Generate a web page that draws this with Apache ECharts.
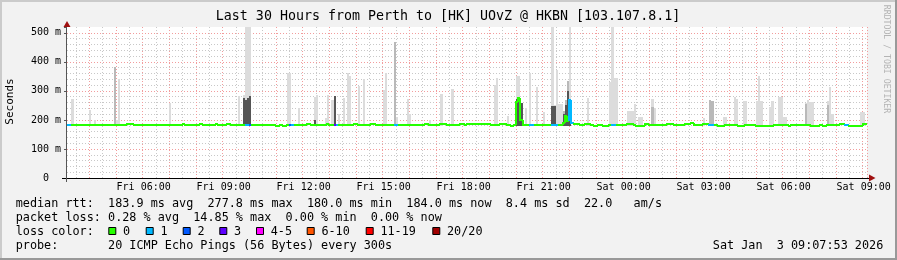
<!DOCTYPE html>
<html><head><meta charset="utf-8">
<script src="https://cdn.jsdelivr.net/npm/echarts@6/dist/echarts.min.js"></script>
<style>html,body{margin:0;padding:0;background:#f2f2f2}#c{width:897px;height:260px}</style>
</head><body><div id="c"></div><script>
// ---------- data ----------
const dayNames = ['Fri', 'Sat'];
const startMinute = 3 * 60 + 10;   // first 5-minute bucket: Fri 03:10
const stepMinutes = 5;
const bucketCount = 360;
const tickLabels = ['Fri 06:00','Fri 09:00','Fri 12:00','Fri 15:00','Fri 18:00','Fri 21:00','Sat 00:00','Sat 03:00','Sat 06:00','Sat 09:00'];
const yMax = 520;
const minRtt = 180.0;

const median = [
183,184,183,183,184,183,183,184,183,184,184,183,183,184,184,184,183,183,184,183,
184,184,183,183,184,183,184,187,187,187,184,183,183,184,184,183,183,184,184,183,
183,184,184,183,183,184,184,183,183,184,183,184,187,184,183,183,184,183,184,183,
187,184,183,183,184,184,183,187,184,183,184,183,187,187,184,183,183,184,184,183,
183,183,183,184,184,183,183,184,184,183,184,184,183,183,180,180,181,180,180,181,
183,184,183,184,184,183,184,183,187,187,184,183,183,184,183,184,184,187,184,183,
182,182,183,184,184,183,183,184,183,187,187,184,183,183,184,183,183,187,187,184,
183,184,183,184,183,184,183,183,183,184,184,183,183,184,184,183,184,183,184,183,
184,187,187,184,183,184,184,183,187,187,187,184,183,184,183,184,183,187,187,184,
186,186,186,186,186,186,186,186,186,186,186,184,184,184,184,187,187,187,184,184,
180,184,262,277,200,184,184,183,183,183,184,184,183,184,184,183,184,184,184,184,
183,184,184,188,212,195,268,190,187,187,187,184,184,187,187,187,184,180,180,184,
184,180,180,180,184,184,184,183,184,184,184,183,187,187,187,184,180,180,180,180,
187,187,184,184,184,183,184,184,184,183,187,187,187,184,184,183,184,184,187,187,
187,188,184,184,184,183,187,187,187,184,184,184,184,180,180,180,184,184,183,184,
184,184,180,180,180,184,184,184,184,184,180,180,180,180,180,180,180,180,184,184,
184,184,184,184,184,180,184,184,184,184,184,184,184,184,184,180,180,180,180,184,
180,180,184,184,184,184,184,184,187,187,184,184,180,180,180,180,180,180,187,187
];

const lossIndex = [0,1,80,81,82,100,101,120,121,147,148,208,209,218,219,220,226,227,245,246,289,290,350,351];
const lossCount = [1,1,1,1,2,2,1,3,1,1,1,1,1,1,1,1,1,1,1,1,1,1,1,1];

const smokeIndex = [2,10,12,21,22,23,46,77,79,80,81,82,99,100,104,111,112,116,117,119,120,122,124,126,127,131,133,142,143,147,148,153,154,163,168,173,192,193,198,202,203,204,206,208,211,214,218,219,220,221,222,223,224,225,226,234,244,245,246,247,252,253,254,255,257,258,263,264,286,289,290,295,296,300,301,304,305,310,311,312,316,317,320,321,322,323,332,333,334,335,342,343,344,357,358];
const smokeHigh  = [272,234,199,381,200,341,259,282,285,520,520,520,360,360,240,278,286,205,287,269,281,220,275,360,350,318,341,303,360,467,209,272,220,200,289,306,320,346,213,350,350,257,240,363,315,228,520,250,372,255,255,230,269,335,520,277,330,520,345,345,230,230,230,255,209,209,272,240,207,269,265,211,211,278,272,264,264,266,352,266,245,264,278,278,209,209,260,269,261,261,266,312,220,226,226];
const smokeMid   = [0,0,0,381,0,0,0,0,0,0,0,0,0,0,0,0,0,0,0,0,0,0,0,0,0,0,0,0,0,467,0,0,0,0,0,0,0,0,0,0,0,0,0,0,0,0,0,0,0,0,0,230,269,335,0,0,0,0,0,0,0,0,0,0,0,0,244,0,0,269,265,0,0,0,0,0,0,0,0,0,0,0,0,0,0,0,255,0,0,0,250,0,0,0,0];
const smokeDark  = [0,0,0,0,0,0,0,0,276,270,276,282,0,0,0,200,0,0,0,0,281,0,0,0,0,0,0,0,0,0,0,0,0,0,0,0,0,0,0,272,276,257,0,0,0,0,248,248,0,0,0,220,250,300,270,0,0,0,0,0,0,0,0,0,0,0,0,0,0,0,0,0,0,0,0,0,0,0,0,0,0,0,0,0,0,0,0,0,0,0,0,0,0,0,0];

const lossColors = {0:'#26ff00',1:'#00b8ff',2:'#0059ff',3:'#5e00ff',5:'#ff00ff',10:'#ff5500',19:'#ff0000',20:'#a10000'};
const lossLegend = [['0','#26ff00'],['1','#00b8ff'],['2','#0059ff'],['3','#5e00ff'],['4-5','#ff00ff'],['6-10','#ff5500'],['11-19','#ff0000'],['20/20','#a10000']];

// ---------- derived ----------
function pad(n){return (n<10?'0':'')+n;}
const categories = [];
for (let k = 0; k < bucketCount; k++) {
  const t = startMinute + k * stepMinutes;
  const d = Math.floor(t / 1440), mm = t % 1440;
  categories.push(dayNames[d] + ' ' + pad(Math.floor(mm / 60)) + ':' + pad(mm % 60));
}
const lossAt = new Array(bucketCount).fill(0);
lossIndex.forEach((ix, k) => { lossAt[ix] = lossCount[k]; });
function lossColor(c){
  if (c === 0) return lossColors[0];
  if (c <= 1) return lossColors[1];
  if (c <= 2) return lossColors[2];
  if (c <= 3) return lossColors[3];
  if (c <= 5) return lossColors[5];
  if (c <= 10) return lossColors[10];
  if (c <= 19) return lossColors[19];
  return lossColors[20];
}
const smokeData = [];
smokeIndex.forEach((ix, k) => {
  smokeData.push([ix, minRtt, smokeHigh[k], '#dcdcdc']);
  if (smokeMid[k]) smokeData.push([ix, minRtt, smokeMid[k], '#b9b9b9']);
  if (smokeDark[k]) smokeData.push([ix, minRtt, smokeDark[k], '#555555']);
});
const medianData = median.map((v, i) => [i, v, i > 0 ? median[i-1] : v, lossAt[i]]);

const FONT = '"DejaVu Sans Mono", monospace';
const gridL = 67, gridT = 27, gridW = 800, gridH = 151;

const chart = echarts.init(document.getElementById('c'), null, {renderer: 'canvas'});

const graphics = [];
graphics.push({type:'rect', shape:{x:0,y:0,width:897,height:2}, style:{fill:'#cbcbcb'}, silent:true});
graphics.push({type:'rect', shape:{x:0,y:0,width:2,height:260}, style:{fill:'#cbcbcb'}, silent:true});
graphics.push({type:'rect', shape:{x:0,y:258,width:897,height:2}, style:{fill:'#999999'}, silent:true});
graphics.push({type:'rect', shape:{x:895,y:0,width:2,height:260}, style:{fill:'#999999'}, silent:true});
function txt(text, x, y, size, opts){
  return Object.assign({type:'text', x:x, y:y, silent:true, z:10,
    style:{text:text, font: size + 'px ' + FONT, fill:'#000', textAlign:'left', textVerticalAlign:'middle', align:'left', verticalAlign:'middle'}}, opts||{});
}
graphics.push({type:'text', x:448, y:16.8, silent:true,
  style:{text:'Last 30 Hours from Perth to [HK] UOvZ @ HKBN [103.107.8.1]', font:'13.3px '+FONT, fill:'#000', textAlign:'center', align:'center', textVerticalAlign:'middle', verticalAlign:'middle'}});
graphics.push({type:'text', x:10.5, y:101.5, rotation:Math.PI/2, silent:true,
  style:{text:'Seconds', font:'11px '+FONT, fill:'#000', textAlign:'center', align:'center', textVerticalAlign:'middle', verticalAlign:'middle'}});
graphics.push({type:'text', x:886.5, y:59, rotation:-Math.PI/2, silent:true,
  style:{text:'RRDTOOL / TOBI OETIKER', font:'8.2px '+FONT, fill:'#b4b4b4', textAlign:'center', align:'center', textVerticalAlign:'middle', verticalAlign:'middle'}});
graphics.push(txt('median rtt:  183.9 ms avg  277.8 ms max  180.0 ms min  184.0 ms now  8.4 ms sd  22.0   am/s', 15.7, 203.5, 11.8));
graphics.push(txt('packet loss: 0.28 % avg  14.85 % max  0.00 % min  0.00 % now', 15.7, 217.7, 11.8));
graphics.push(txt('loss color:', 15.7, 231.8, 11.8));
const swatchX = [108.3, 145.7, 182.7, 219.3, 256, 306.7, 365.7, 432.3];
lossLegend.forEach((it, k) => {
  graphics.push({type:'rect', shape:{x:swatchX[k]+0.5, y:227.5, width:7, height:7}, style:{fill:it[1], stroke:'#000', lineWidth:1}, silent:true, z:10});
  graphics.push(txt(it[0], swatchX[k]+14.7, 231.8, 11.8));
});
graphics.push(txt('probe:       20 ICMP Echo Pings (56 Bytes) every 300s', 15.7, 246, 11.8));
graphics.push(txt('Sat Jan  3 09:07:53 2026', 712.8, 246, 11.8));
graphics.push({type:'polygon', shape:{points:[[63.5,27],[70.5,27],[67,21]]}, style:{fill:'#a01010'}, silent:true, z:10});
graphics.push({type:'polygon', shape:{points:[[869,174.5],[869,181.5],[875.5,178]]}, style:{fill:'#a01010'}, silent:true, z:10});
graphics.push({type:'line', shape:{x1:62,y1:178.5,x2:869,y2:178.5}, style:{stroke:'#000', lineWidth:1}, silent:true, z:9});
graphics.push({type:'line', shape:{x1:66.5,y1:27,x2:66.5,y2:182}, style:{stroke:'#555', lineWidth:1}, silent:true, z:9});

const isHalf = (idx, val) => /:30$/.test(val);
const isHour = (idx, val) => /:00$/.test(val);
const isLabel = (idx, val) => tickLabels.indexOf(val) >= 0;

const option = {
  backgroundColor: '#f2f2f2',
  animation: false,
  grid: {left:gridL, top:gridT, width:gridW, height:gridH, show:true, backgroundColor:'#ffffff', borderWidth:0},
  xAxis: [
    {type:'category', data:categories, boundaryGap:true, gridIndex:0, position:'bottom',
     axisLine:{show:false}, axisTick:{show:false},
     axisLabel:{show:true, interval:isLabel, formatter:v=>v, fontFamily:'DejaVu Sans Mono', fontSize:10, color:'#000', margin:4},
     splitLine:{show:true, interval:isHalf, lineStyle:{color:'#c8c8c8', width:1, type:[1,2]}}},
    {type:'category', data:categories, boundaryGap:true, gridIndex:0, position:'bottom',
     axisLine:{show:false}, axisTick:{show:false}, axisLabel:{show:false},
     splitLine:{show:true, interval:isHour, lineStyle:{color:'#f29c9c', width:1, type:[1,2]}}}
  ],
  yAxis: [
    {type:'value', min:0, max:yMax, interval:20, position:'left',
     axisLine:{show:false}, axisTick:{show:false},
     axisLabel:{show:true, margin:6, fontFamily:'DejaVu Sans Mono', fontSize:10, color:'#000',
       formatter:v => (v % 100 === 0 && v <= 500) ? (v === 0 ? '0  ' : v + ' m') : ''},
     splitLine:{show:true, showMaxLine:false, showMinLine:false, lineStyle:{color:'#c8c8c8', width:1, type:[1,2]}}},
    {type:'value', min:0, max:yMax, interval:100, position:'left',
     axisLine:{show:false}, axisTick:{show:true, length:3, lineStyle:{color:'#555'}}, axisLabel:{show:false},
     splitLine:{show:true, showMaxLine:false, showMinLine:false, lineStyle:{color:'#f29c9c', width:1, type:[1,2]}}}
  ],
  graphic: {elements: graphics},
  series: [
    {type:'custom', name:'smoke', xAxisIndex:0, yAxisIndex:0, clip:true, z:3,
     renderItem:(params, api) => {
       const i = api.value(0);
       const lo = api.coord([i, api.value(1)]);
       const hi = api.coord([i, api.value(2)]);
       const w = api.size([1, 0])[0];
       const x0 = Math.round(lo[0] - w/2), x1 = Math.round(lo[0] + w/2);
       return {type:'rect', shape:{x:x0, y:Math.round(hi[1]), width:x1-x0, height:Math.round(lo[1])-Math.round(hi[1])}, style:{fill: smokeData[params.dataIndex][3]}};
     },
     data: smokeData.map(d => [d[0], d[1], d[2]])},
    {type:'custom', name:'median', xAxisIndex:0, yAxisIndex:0, clip:true, z:5,
     renderItem:(params, api) => {
       const i = api.value(0);
       const p = api.coord([i, api.value(1)]);
       const pp = api.coord([i, api.value(2)]);
       const w = api.size([1, 0])[0];
       const x0 = Math.round(p[0] - w/2), x1 = Math.round(p[0] + w/2);
       const y = Math.round(p[1]), yp = Math.round(pp[1]);
       return {type:'polyline', shape:{points:[[x0, yp],[x0, y],[x1, y]]},
         style:{stroke: lossColor(api.value(3)), lineWidth:2, fill:null}};
     },
     data: medianData}
  ]
};
chart.setOption(option);
</script></body></html>
